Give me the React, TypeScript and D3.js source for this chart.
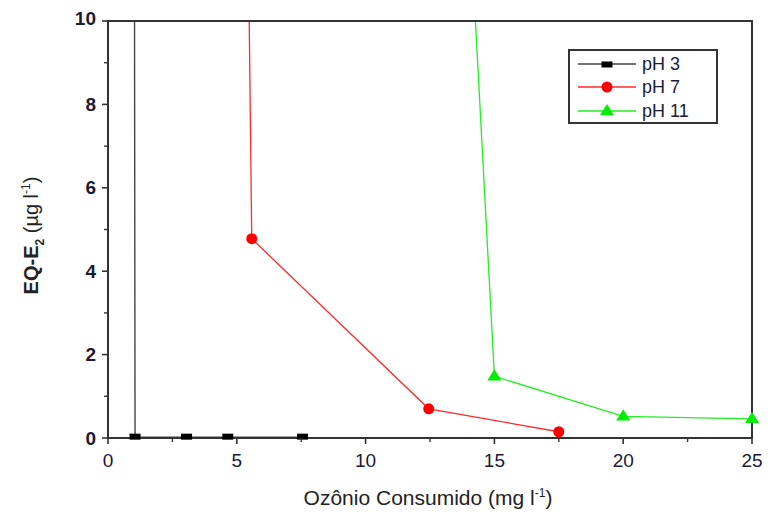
import * as d3 from 'd3';

// pH 3: first point lies above the plotted range (line comes in from the top)
const ph3X = [0.97, 1.05, 3.05, 4.65, 7.55];
const ph3Y = [40, 0.02, 0.02, 0.02, 0.02];
const ph7X = [5.2, 5.58, 12.45, 17.5];
const ph7Y = [25, 4.78, 0.7, 0.15];
const ph11X = [13.4, 15.0, 20.0, 25.0];
const ph11Y = [20, 1.48, 0.52, 0.46];

const xTicks = [0, 5, 10, 15, 20, 25];
const xMinor = [2.5, 7.5, 12.5, 17.5, 22.5];
const yTicks = [0, 2, 4, 6, 8, 10];
const yMinor = [1, 3, 5, 7, 9];

const legendItems = ['pH 3', 'pH 7', 'pH 11'];

const W = 770;
const H = 517;
const left = 108;
const right = 752;
const top = 21;
const bottom = 438;

const FONT = '"Liberation Sans", Arial, sans-serif';

export default function App() {
  const x = d3.scaleLinear().domain([0, 25]).range([left, right]);
  const y = d3.scaleLinear().domain([0, 10]).range([bottom, top]);

  const line = d3.line<[number, number]>().x(d => x(d[0])).y(d => y(d[1]));
  const pts = (xs: number[], ys: number[]) => xs.map((v, i) => [v, ys[i]] as [number, number]);

  const series = [
    { data: pts(ph3X, ph3Y), color: '#444', width: 1.4, marker: 'square' },
    { data: pts(ph7X, ph7Y), color: '#ff2a2a', width: 1.3, marker: 'circle' },
    { data: pts(ph11X, ph11Y), color: '#22ee22', width: 1.3, marker: 'triangle' },
  ];
  const markerFill = ['#000', '#ff0000', '#00ee00'];

  const drawMarker = (kind: string, cx: number, cy: number, fill: string, key: string) => {
    if (kind === 'square') return <rect key={key} x={cx - 5.5} y={cy - 3.5} width={11} height={6} fill={fill} />;
    if (kind === 'circle') return <circle key={key} cx={cx} cy={cy} r={5.5} fill={fill} />;
    const s = 7;
    return <path key={key} d={`M${cx},${cy - s} L${cx + s},${cy + s * 0.6} L${cx - s},${cy + s * 0.6}Z`} fill={fill} />;
  };

  const lx = 569, ly = 50, lw = 148, lh = 73;
  const rowY = [64, 87, 111];

  return (
    <div style={{ position: 'fixed', left: 0, top: 0 }}>
      <svg width={W} height={H} style={{ display: 'block', background: '#fff' }}>
        <defs>
          <clipPath id="plot">
            <rect x={left} y={top} width={right - left} height={bottom - top} />
          </clipPath>
        </defs>

        {/* series lines */}
        <g clipPath="url(#plot)">
          {series.map((s, i) => (
            <path key={i} d={line(s.data) || ''} fill="none" stroke={s.color} strokeWidth={s.width} />
          ))}
        </g>

        {/* frame */}
        <rect x={left} y={top} width={right - left} height={bottom - top} fill="none" stroke="#333" strokeWidth={2} />

        {/* markers */}
        {series.map((s, i) =>
          s.data
            .filter(d => d[1] <= 10)
            .map((d, j) => drawMarker(s.marker, x(d[0]), y(d[1]), markerFill[i], `m${i}-${j}`))
        )}

        {/* x axis ticks */}
        {xTicks.map(t => (
          <g key={`xt${t}`}>
            <line x1={x(t)} x2={x(t)} y1={bottom} y2={bottom + 6} stroke="#333" strokeWidth={1.6} />
            <text x={x(t)} y={bottom + 29} textAnchor="middle" fontSize={19} fontFamily={FONT} fill="#1a1a33">
              {t}
            </text>
          </g>
        ))}
        {xMinor.map(t => (
          <line key={`xm${t}`} x1={x(t)} x2={x(t)} y1={bottom} y2={bottom + 4} stroke="#333" strokeWidth={1.4} />
        ))}

        {/* y axis ticks */}
        {yTicks.map(t => (
          <g key={`yt${t}`}>
            <line x1={left - 6} x2={left} y1={y(t)} y2={y(t)} stroke="#333" strokeWidth={1.6} />
            <text x={left - 12} y={y(t) - (t === 10 ? 3 : 0)} dy="0.35em" textAnchor="end" fontSize={19} fontWeight="bold" fontFamily={FONT} fill="#1a1a33">
              {t}
            </text>
          </g>
        ))}
        {yMinor.map(t => (
          <line key={`ym${t}`} x1={left - 4} x2={left} y1={y(t)} y2={y(t)} stroke="#333" strokeWidth={1.4} />
        ))}

        {/* axis titles */}
        <text x={(left + right) / 2 - 2} y={505} textAnchor="middle" fontSize={21} fontFamily={FONT} fill="#222">
          Ozônio Consumido (mg l<tspan dy={-8} fontSize={12}>-1</tspan><tspan dy={8}>)</tspan>
        </text>
        <text transform={`translate(38,${(top + bottom) / 2 + 6}) rotate(-90)`} textAnchor="middle" fontSize={20} fontWeight="bold" fontFamily={FONT} fill="#222">
          EQ-E<tspan dy={6} fontSize={12}>2</tspan><tspan dy={-6} fontWeight="normal"> (µg l</tspan><tspan dy={-8} fontSize={12} fontWeight="normal">-1</tspan><tspan dy={8} fontWeight="normal">)</tspan>
        </text>

        {/* legend */}
        <rect x={lx} y={ly} width={lw} height={lh} fill="#fff" stroke="#333" strokeWidth={2} />
        {legendItems.map((name, i) => (
          <g key={name}>
            <line x1={578} x2={636} y1={rowY[i]} y2={rowY[i]} stroke={series[i].color} strokeWidth={1.4} />
            {drawMarker(series[i].marker, 607, rowY[i] + (i === 0 ? 1 : 0), markerFill[i], `lg${i}`)}
            <text x={642} y={rowY[i]} dy="0.36em" fontSize={18} fontFamily={FONT} fill="#1a1a33">
              {name}
            </text>
          </g>
        ))}
      </svg>
    </div>
  );
}
